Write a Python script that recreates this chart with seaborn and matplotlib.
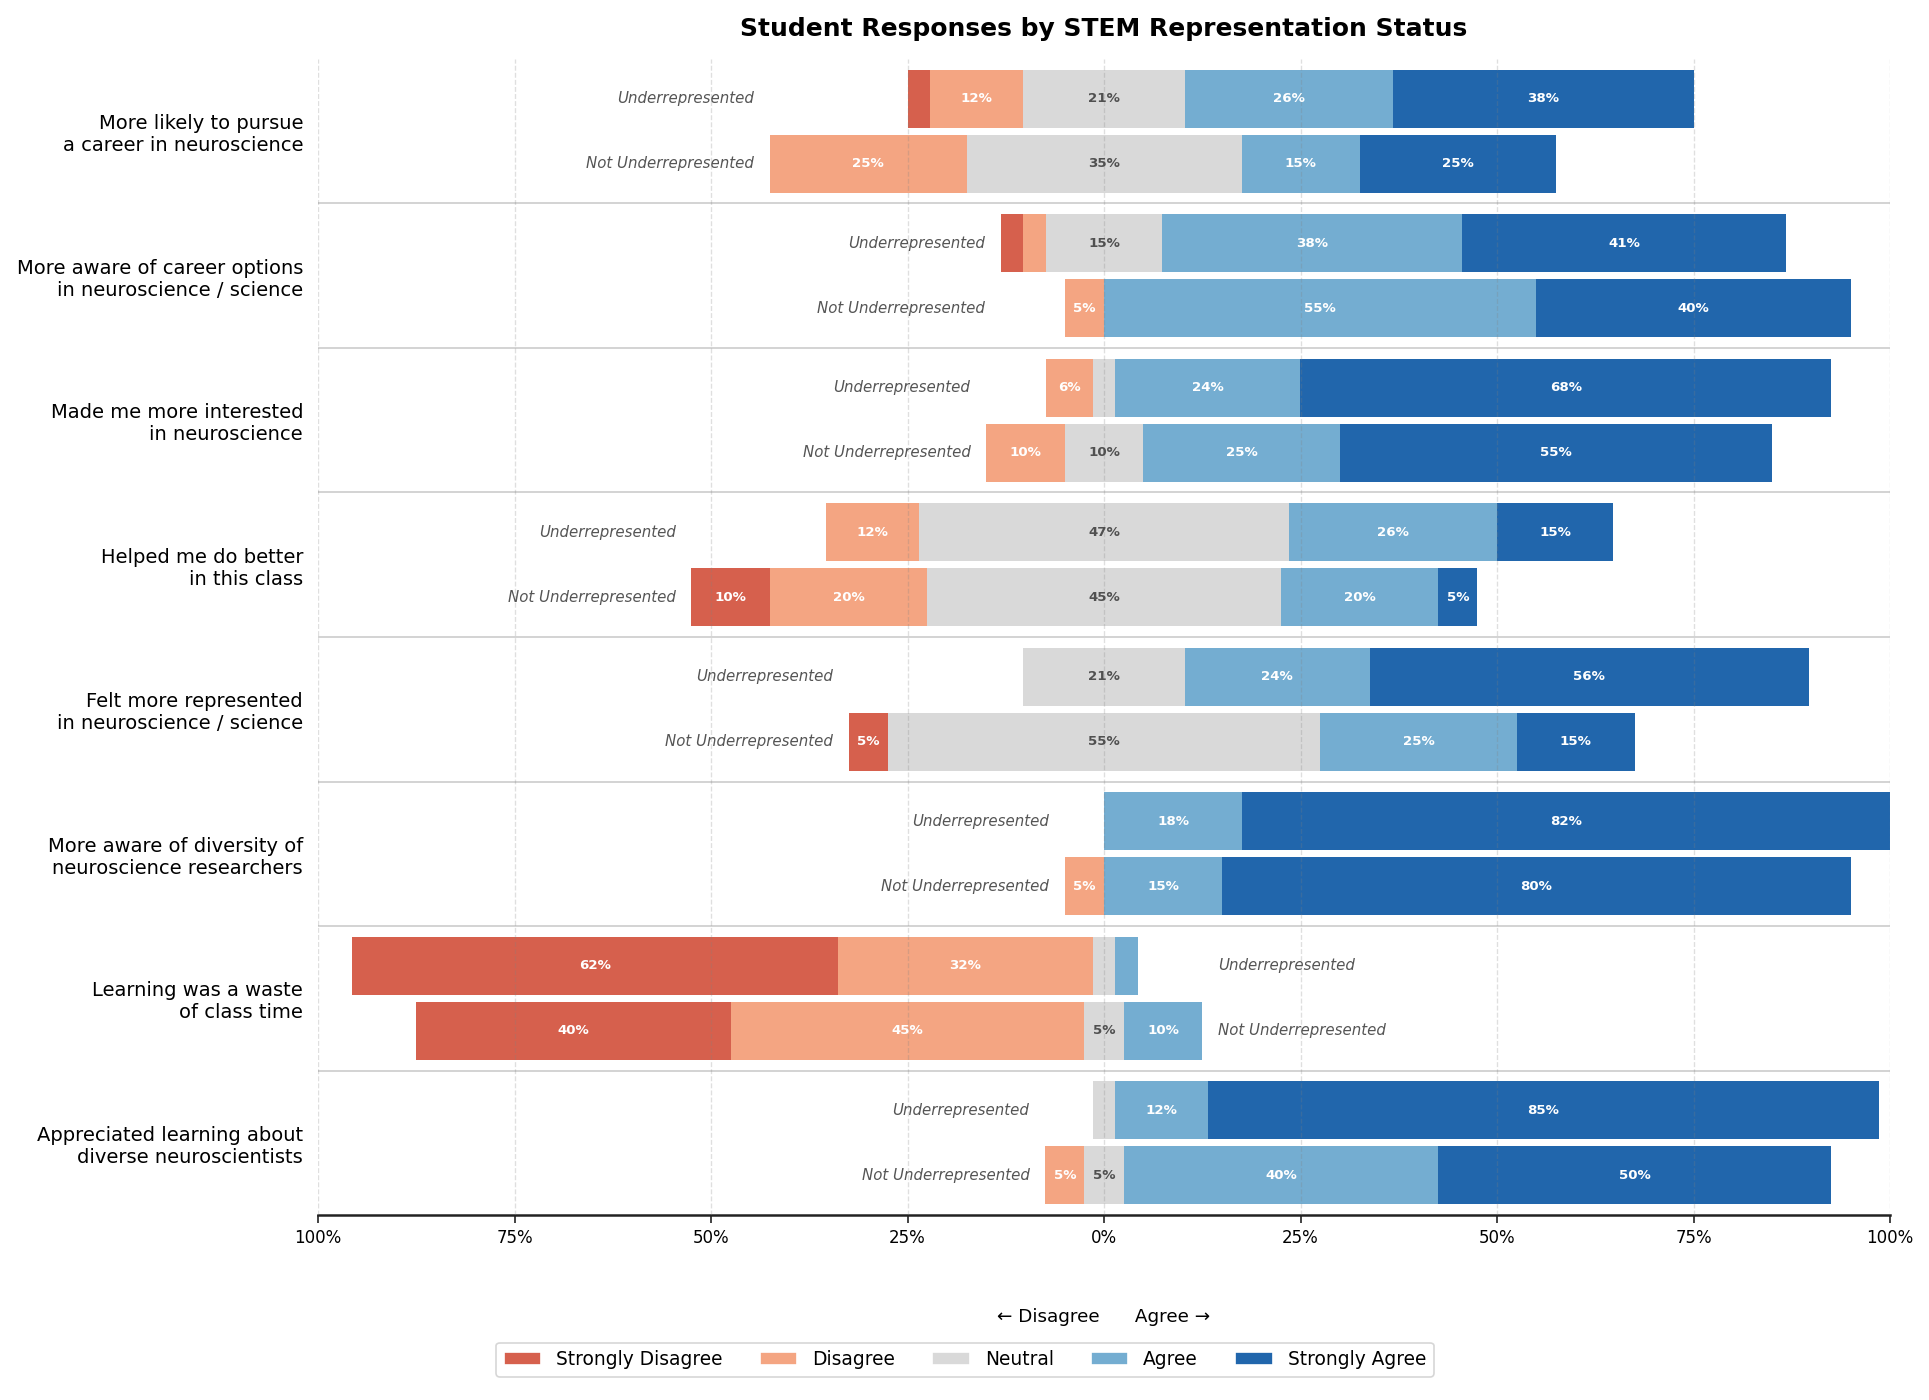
import numpy as np
import pandas as pd
import matplotlib
matplotlib.use("Agg")
import matplotlib.pyplot as plt
import seaborn as sns
from matplotlib.patches import Patch

# --- DATA (percent of respondents per group) ---
QUESTIONS = [
    "More likely to pursue\na career in neuroscience",
    "More aware of career options\nin neuroscience / science",
    "Made me more interested\nin neuroscience",
    "Helped me do better\nin this class",
    "Felt more represented\nin neuroscience / science",
    "More aware of diversity of\nneuroscience researchers",
    "Learning was a waste\nof class time",
    "Appreciated learning about\ndiverse neuroscientists",
]
GROUPS = ["Underrepresented", "Not Underrepresented"]
LEVELS = ["Strongly Disagree", "Disagree", "Neutral", "Agree", "Strongly Agree"]

ur_strongly_disagree = [2.9, 2.9, 0.0, 0.0, 0.0, 0.0, 61.8, 0.0]
ur_disagree = [11.8, 2.9, 5.9, 11.8, 0.0, 0.0, 32.4, 0.0]
ur_neutral = [20.6, 14.7, 2.9, 47.1, 20.6, 0.0, 2.9, 2.9]
ur_agree = [26.5, 38.2, 23.5, 26.5, 23.5, 17.6, 2.9, 11.8]
ur_strongly_agree = [38.2, 41.2, 67.6, 14.7, 55.9, 82.4, 0.0, 85.3]

nur_strongly_disagree = [0, 0, 0, 10, 5, 0, 40, 0]
nur_disagree = [25, 5, 10, 20, 0, 5, 45, 5]
nur_neutral = [35, 0, 10, 45, 55, 0, 5, 5]
nur_agree = [15, 55, 25, 20, 25, 15, 10, 40]
nur_strongly_agree = [25, 40, 55, 5, 15, 80, 0, 50]

COLORS = ["#d6604d", "#f4a582", "#d9d9d9", "#74add1", "#2166ac"]


def build_frame():
    rows = []
    for grp, vals in [
        (GROUPS[0], [ur_strongly_disagree, ur_disagree, ur_neutral, ur_agree, ur_strongly_agree]),
        (GROUPS[1], [nur_strongly_disagree, nur_disagree, nur_neutral, nur_agree, nur_strongly_agree]),
    ]:
        for i, q in enumerate(QUESTIONS):
            rec = {"question": q, "group": grp, "qi": i}
            for lvl, arr in zip(LEVELS, vals):
                rec[lvl] = float(arr[i])
            rows.append(rec)
    df = pd.DataFrame(rows)
    half = df["Neutral"] / 2
    # cumulative ends of each layer, drawn from the centre line outwards
    df["sa_end"] = half + df["Agree"] + df["Strongly Agree"]
    df["a_end"] = half + df["Agree"]
    df["n_pos"] = half
    df["sd_end"] = -(half + df["Disagree"] + df["Strongly Disagree"])
    df["d_end"] = -(half + df["Disagree"])
    df["n_neg"] = -half
    return df


df = build_frame()

sns.set_theme(style="white")
plt.rcParams["font.family"] = ["DejaVu Sans"]
for key in ["text.color", "axes.labelcolor", "xtick.color", "ytick.color", "axes.titlecolor"]:
    plt.rcParams[key] = "black"

fig = plt.figure(figsize=(1930 / 120, 1400 / 120), dpi=120)
ax = fig.add_axes([0.1648, 0.1321, 0.9793 - 0.1648, 0.9579 - 0.1321])

layers = [
    ("sa_end", COLORS[4]), ("a_end", COLORS[3]), ("n_pos", COLORS[2]),
    ("sd_end", COLORS[0]), ("d_end", COLORS[1]), ("n_neg", COLORS[2]),
]
for col, color in layers:
    sns.barplot(
        data=df, x=col, y="question", hue="group",
        order=QUESTIONS, hue_order=GROUPS,
        palette={g: color for g in GROUPS},
        orient="h", dodge=True, width=0.9, gap=0.111,
        errorbar=None, legend=False, saturation=1, linewidth=0, ax=ax,
    )

# segment labels and group labels
offsets = {GROUPS[0]: -0.225, GROUPS[1]: 0.225}
for _, r in df.iterrows():
    y = r["qi"] + offsets[r["group"]]
    start = r["sd_end"]
    for lvl in LEVELS:
        v = r[lvl]
        if v >= 4:
            txt_color = "#505050" if lvl == "Neutral" else "white"
            ax.text(start + v / 2, y, f"{v:.0f}%", ha="center", va="center",
                    fontsize=8, fontweight="bold", color=txt_color)
        start += v

for i in range(len(QUESTIONS)):
    sub = df[df["qi"] == i]
    left = sub["sd_end"].min()
    right = sub["sa_end"].max()
    for _, r in sub.iterrows():
        y = i + offsets[r["group"]]
        if left < -70:
            ax.text(right + 2, y, r["group"], ha="left", va="center",
                    fontsize=9, fontstyle="italic", color="#555555")
        else:
            ax.text(left - 2, y, r["group"], ha="right", va="center",
                    fontsize=9, fontstyle="italic", color="#555555")

for i in range(len(QUESTIONS) - 1):
    ax.axhline(i + 0.5, color="#cccccc", lw=1, zorder=0.5)

ticks = np.arange(-100, 101, 25)
ax.set_xlim(-100, 100)
ax.set_ylim(len(QUESTIONS) - 0.5, -0.5)
ax.set_xticks(ticks)
ax.set_xticklabels([f"{abs(t)}%" for t in ticks], fontsize=10)
ax.tick_params(axis="x", length=5, width=1, color="#222222", bottom=True)
ax.tick_params(axis="y", length=0, pad=9, labelsize=11.7)
ax.set_xlabel("")
ax.set_ylabel("")
ax.set_axisbelow(False)
ax.grid(axis="x", linestyle="--", color="gray", alpha=0.25, lw=0.8)
ax.grid(axis="y", visible=False)
for side in ["top", "right", "left"]:
    ax.spines[side].set_visible(False)
ax.spines["bottom"].set_color("#222222")
ax.spines["bottom"].set_linewidth(1.5)

ax.set_title("Student Responses by STEM Representation Status",
             fontsize=15, fontweight="bold", pad=14)
ax.text(0.5, -0.088, "\u2190 Disagree      Agree \u2192", transform=ax.transAxes,
        ha="center", va="center", fontsize=11)

handles = [Patch(facecolor=c, label=l) for c, l in zip(COLORS, LEVELS)]
fig.legend(handles=handles, loc="lower center", bbox_to_anchor=(0.5, 0.01),
           ncol=5, fontsize=11.2, frameon=True)

fig.savefig("out.png", dpi=120)
